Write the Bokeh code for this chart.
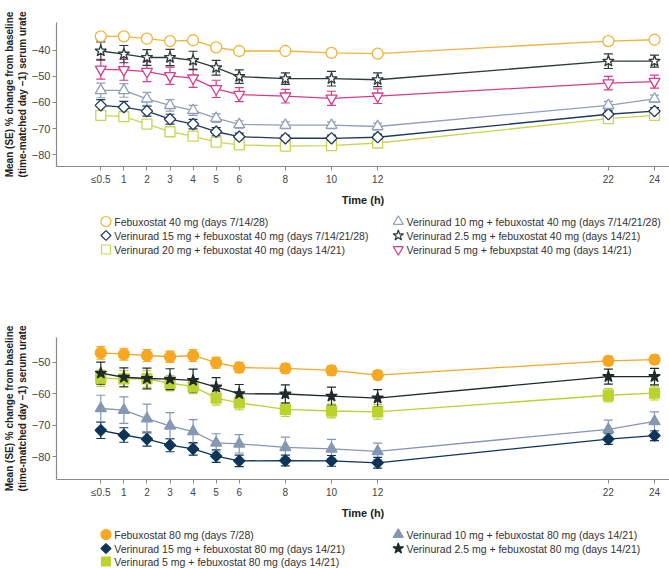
from bokeh.plotting import figure
from bokeh.layouts import column
from bokeh.models import Range1d, FixedTicker, Whisker, TeeHead, ColumnDataSource
from bokeh.embed import file_html
from bokeh.resources import INLINE
from bokeh.core.properties import value

# ---------------- data ----------------
times = [0, 1, 2, 3, 4, 5, 6, 8, 10, 12, 22, 24]
time_labels = ["≤0.5", "1", "2", "3", "4", "5", "6", "8", "10", "12", "22", "24"]

top_yticks = [-80, -70, -60, -50, -40]
bottom_yticks = [-80, -70, -60, -50]

# Top panel (febuxostat 40 mg)
top_names = [
    "Febuxostat 40 mg (days 7/14/28)",
    "Verinurad 15 mg + febuxostat 40 mg (days 7/14/21/28)",
    "Verinurad 20 mg + febuxostat 40 mg (days 14/21)",
    "Verinurad 10 mg + febuxostat 40 mg (days 7/14/21/28)",
    "Verinurad 2.5 mg + febuxostat 40 mg (days 14/21)",
    "Verinurad 5 mg + febuxpstat 40 mg (days 14/21)",
]
feb40 = [-34.7, -34.7, -35.6, -36.5, -36.2, -38.9, -40.3, -40.3, -41.0, -41.3, -36.5, -36.0]
feb40_se = [0.8, 0.8, 0.8, 0.8, 0.8, 0.8, 0.8, 0.8, 0.8, 0.8, 0.8, 0.8]
v15_f40 = [-61.1, -61.8, -63.3, -66.4, -68.3, -71.2, -73.1, -73.7, -73.7, -73.3, -64.5, -63.3]
v15_f40_se = [2.2, 2.2, 1.9, 1.9, 1.8, 1.6, 1.4, 1.2, 1.2, 1.2, 1.3, 1.3]
v20_f40 = [-64.9, -65.4, -68.3, -71.2, -72.9, -75.2, -76.2, -76.7, -76.5, -75.5, -66.2, -64.9]
v20_f40_se = [1.3, 1.4, 1.3, 1.2, 1.2, 1.1, 1.0, 1.0, 1.0, 1.0, 1.1, 1.1]
v10_f40 = [-55.4, -55.4, -58.6, -61.1, -63.0, -66.0, -68.4, -68.7, -68.7, -69.2, -61.1, -58.6]
v10_f40_se = [2.8, 2.6, 2.5, 2.2, 1.9, 1.6, 1.4, 1.3, 1.3, 1.3, 1.5, 1.4]
v25_f40 = [-40.3, -41.5, -42.8, -42.8, -43.9, -46.7, -50.1, -50.9, -50.9, -51.3, -44.2, -44.2]
v25_f40_se = [3.5, 3.3, 3.0, 3.1, 3.5, 2.8, 2.6, 2.2, 2.8, 2.6, 2.8, 2.3]
v5_f40 = [-47.3, -47.5, -48.2, -49.8, -50.7, -54.8, -57.0, -57.6, -58.4, -57.6, -52.6, -52.0]
v5_f40_se = [3.8, 4.0, 3.8, 3.3, 3.5, 3.3, 2.7, 2.6, 2.7, 2.8, 2.6, 2.5]

# Bottom panel (febuxostat 80 mg)
bottom_names = [
    "Febuxostat 80 mg (days 7/28)",
    "Verinurad 15 mg + febuxostat 80 mg (days 14/21)",
    "Verinurad 5 mg + febuxostat 80 mg (days 14/21)",
    "Verinurad 10 mg + febuxostat 80 mg (days 14/21)",
    "Verinurad 2.5 mg + febuxostat 80 mg (days 14/21)",
]
feb80 = [-47.1, -47.5, -47.9, -48.3, -47.9, -50.2, -51.7, -52.0, -52.6, -54.1, -49.6, -49.2]
feb80_se = [2.0, 1.9, 1.9, 1.8, 1.9, 1.7, 1.6, 1.5, 1.5, 1.4, 1.4, 1.4]
v15_f80 = [-71.6, -73.1, -74.4, -76.3, -77.5, -79.8, -81.3, -81.2, -81.3, -81.9, -74.4, -73.3]
v15_f80_se = [2.6, 2.3, 2.2, 2.1, 2.0, 2.0, 1.8, 1.7, 1.7, 1.7, 1.7, 1.6]
v5_f80 = [-55.1, -55.3, -55.3, -56.7, -57.7, -61.4, -62.9, -65.0, -65.5, -65.8, -60.5, -59.8]
v5_f80_se = [2.6, 2.6, 2.6, 2.4, 2.3, 2.2, 2.2, 2.2, 2.2, 2.3, 2.1, 2.2]
v10_f80 = [-64.7, -65.2, -67.9, -70.2, -72.0, -75.6, -75.9, -77.0, -77.5, -78.3, -71.3, -68.8]
v10_f80_se = [4.2, 4.2, 4.6, 4.2, 3.8, 2.9, 2.9, 3.2, 3.0, 2.6, 2.9, 3.0]
v25_f80 = [-53.5, -54.8, -55.2, -55.4, -55.8, -57.9, -60.0, -60.1, -60.8, -61.4, -54.6, -54.6]
v25_f80_se = [3.5, 3.0, 3.3, 3.3, 3.6, 3.0, 2.9, 2.9, 2.9, 2.7, 2.4, 2.6]

FONT = "Liberation Sans"
W = 669

top_series = [
    (top_names[0], feb40, feb40_se, "circle", "#F0B43C"),
    (top_names[1], v15_f40, v15_f40_se, "diamond", "#1E3A5C"),
    (top_names[2], v20_f40, v20_f40_se, "square", "#C9D651"),
    (top_names[3], v10_f40, v10_f40_se, "triangle", "#8FA0B8"),
    (top_names[4], v25_f40, v25_f40_se, "star", "#2D3B3B"),
    (top_names[5], v5_f40, v5_f40_se, "inverted_triangle", "#D63C8E"),
]
bottom_series = [
    (bottom_names[0], feb80, feb80_se, "circle", "#F7A823"),
    (bottom_names[1], v15_f80, v15_f80_se, "diamond", "#0E3558"),
    (bottom_names[2], v5_f80, v5_f80_se, "square", "#BCD22E"),
    (bottom_names[3], v10_f80, v10_f80_se, "triangle", "#8497B3"),
    (bottom_names[4], v25_f80, v25_f80_se, "star", "#1E2B2B"),
]

# marker -> (bokeh marker, size, angle)
MSTYLE = {
    "circle": ("circle", 11, 0.0),
    "diamond": ("square", 8, 0.785398),
    "square": ("square", 10, 0.0),
    "triangle": ("triangle", 11, 0.0),
    "star": ("star", 12, 0.0),
    "inverted_triangle": ("inverted_triangle", 11, 0.0),
}


def make_panel(series, yr, yticks, mbt, frame_h, mbb, filled, draw_order):
    p = figure(width=W, height=mbt + frame_h + mbb, output_backend="svg", toolbar_location=None,
               x_range=Range1d(-1.92, 24.65), y_range=Range1d(*yr),
               min_border_left=54, min_border_right=0, min_border_top=mbt, min_border_bottom=mbb)
    p.grid.visible = False
    p.outline_line_color = None

    p.xaxis.ticker = FixedTicker(ticks=times)
    p.xaxis.major_label_overrides = {t: l for t, l in zip(times, time_labels)}
    p.yaxis.ticker = FixedTicker(ticks=yticks)
    p.yaxis.major_label_overrides = {t: "\u2212" + str(abs(t)) for t in yticks}
    for ax in (p.xaxis[0], p.yaxis[0]):
        ax.axis_line_color = "#8a8a8a"
        ax.axis_line_width = 1.2
        ax.major_tick_line_color = "#8a8a8a"
        ax.major_tick_out = 4
        ax.major_tick_in = 0
        ax.minor_tick_line_color = None
        ax.major_label_text_font = FONT
        ax.major_label_text_color = "#444444"
        ax.axis_label_text_font = FONT
        ax.axis_label_text_font_style = "bold"
        ax.axis_label_text_color = "#222222"
    p.xaxis.axis_label_text_font_size = "11px"
    p.yaxis.axis_label_text_font_size = "10px"
    p.xaxis.major_label_text_font_size = "10px"
    p.yaxis.major_label_text_font_size = "11px"
    p.xaxis.major_label_standoff = 3
    p.yaxis.major_label_standoff = 2
    p.xaxis.axis_label = "Time (h)"
    p.xaxis.axis_label_standoff = 6
    p.yaxis.axis_label = "Mean (SE) % change from baseline\n(time-matched day \u22121) serum urate"
    p.yaxis.axis_label_standoff = 1

    for idx in draw_order:
        name, y, se, marker, color = series[idx]
        mk, ms, ang = MSTYLE[marker]
        src = ColumnDataSource(dict(x=times, y=y,
                                    upper=[a + b for a, b in zip(y, se)],
                                    lower=[a - b for a, b in zip(y, se)]))
        wk = Whisker(source=src, base="x", upper="upper", lower="lower",
                     line_color=color, line_width=1.2,
                     upper_head=TeeHead(size=9, line_color=color, line_width=1.2),
                     lower_head=TeeHead(size=9, line_color=color, line_width=1.2))
        p.add_layout(wk)
        p.line("x", "y", source=src, line_color=color, line_width=1.3)
        p.scatter("x", "y", source=src, marker=mk, size=ms, angle=ang,
                  line_color=color, line_width=1.3,
                  fill_color=color if filled else "white")
    return p


def make_legend(series, h, rows_y, col_x, filled):
    lf = figure(width=W, height=h, output_backend="svg", toolbar_location=None,
                x_range=Range1d(0, W), y_range=Range1d(h, 0), min_border=0,
                x_axis_location=None, y_axis_location=None)
    lf.grid.visible = False
    lf.outline_line_color = None
    nrows = len(rows_y)
    for i, (name, y, se, marker, color) in enumerate(series):
        c, r = divmod(i, nrows)
        mx = col_x[c]
        my = rows_y[r]
        mk, ms, ang = MSTYLE[marker]
        lf.scatter([mx], [my], marker=mk, size=ms - 1, angle=ang, line_color=color, line_width=1.2,
                   fill_color=color if filled else "white")
        lf.text([mx + 9], [my], text=[name], text_font=value(FONT), text_font_size="10.5px",
                text_color="#333333", text_baseline="middle", text_align="left")
    return lf


p1 = make_panel(top_series, (-84.5, -29.4), top_yticks, 22, 146, 40, False, [2, 1, 3, 5, 4, 0])
l1 = make_legend(top_series, 92, [13, 27, 41], [54, 373], False)
p2 = make_panel(bottom_series, (-87.2, -42.2), bottom_yticks, 37, 144, 40, True, [1, 3, 2, 4, 0])
l2 = make_legend(bottom_series, 47, [13, 27, 40], [54, 373], True)

layout = column(p1, l1, p2, l2, spacing=0)
open("out.html", "w").write(file_html(layout, INLINE))
